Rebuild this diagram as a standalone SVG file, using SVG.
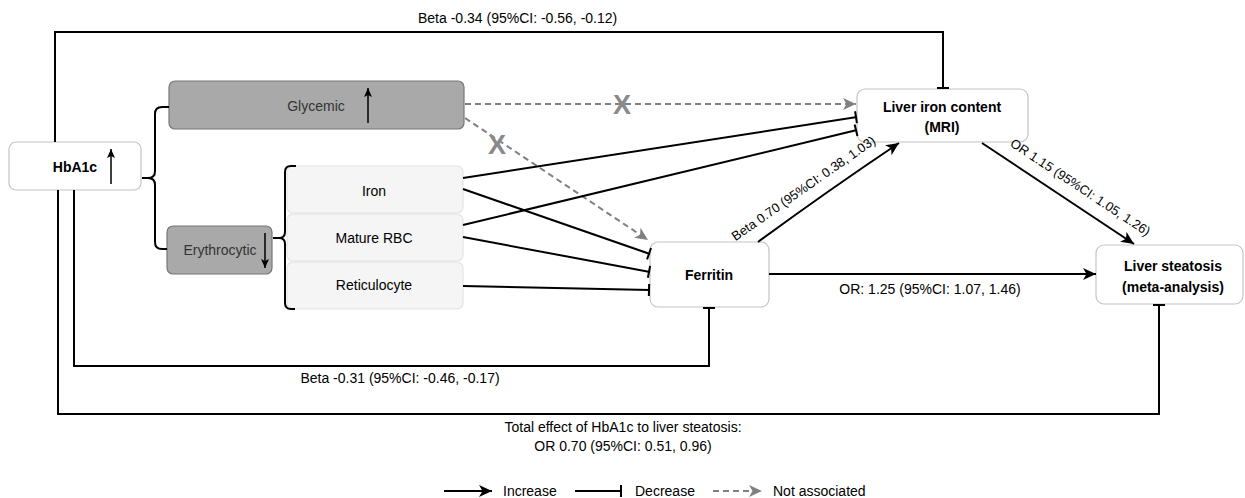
<svg xmlns="http://www.w3.org/2000/svg" width="1245" height="498" viewBox="0 0 1245 498">
<style>
text{font-family:"Liberation Sans",Arial,Helvetica,sans-serif;font-size:14px;fill:#000}
.b{font-weight:bold}
.c{text-anchor:middle}
.g{fill:#333}
.s13{font-size:13px}
.x{font-weight:bold;font-size:27px;fill:#8a8a8a}
.wbox{fill:#fff;stroke:#c4c4c4;stroke-width:1.2}
.gbox{fill:#a9a9a9;stroke:#777;stroke-width:1.2}
.lbox{fill:#f5f5f5;stroke:#e4e4e4;stroke-width:1.2}
.ln{fill:none;stroke:#000;stroke-width:2}
.up{fill:none;stroke:#000;stroke-width:1.5}
.ds{fill:none;stroke:#808080;stroke-width:2;stroke-dasharray:6 4}
</style>
<defs>
<marker id="arr" markerUnits="userSpaceOnUse" markerWidth="14" markerHeight="12" refX="13" refY="6" orient="auto">
<path d="M0,0 L13,6 L0,12 L3.5,6 z" fill="#000"/>
</marker>
<marker id="arrg" markerUnits="userSpaceOnUse" markerWidth="14" markerHeight="12" refX="13" refY="6" orient="auto">
<path d="M0,0 L13,6 L0,12 L3.5,6 z" fill="#808080"/>
</marker>
<marker id="sa" markerUnits="userSpaceOnUse" markerWidth="10" markerHeight="10" refX="9" refY="5" orient="auto">
<path d="M0,1 L9,5 L0,9 L2,5 z" fill="#000"/>
</marker>
<marker id="tee" markerUnits="userSpaceOnUse" markerWidth="4" markerHeight="14" refX="3" refY="7" orient="auto">
<line x1="2" y1="1" x2="2" y2="13" stroke="#000" stroke-width="2"/>
</marker>
</defs>

<g id="hba1c">
<rect class="wbox" x="9" y="142" width="132" height="48" rx="7"/>
<text class="b c" x="75" y="172">HbA1c</text>
<line class="up" x1="111" y1="184" x2="111" y2="149" marker-end="url(#sa)"/>
</g>

<g id="glycemic">
<rect class="gbox" x="169" y="81" width="295" height="48" rx="6"/>
<text class="c g" x="316" y="111">Glycemic</text>
<line class="up" x1="368" y1="123" x2="368" y2="88" marker-end="url(#sa)"/>
</g>

<g id="erythrocytic">
<rect class="gbox" x="167" y="226" width="105" height="48" rx="6"/>
<text class="c g" x="220" y="255">Erythrocytic</text>
<line class="up" x1="265" y1="233" x2="265" y2="268" marker-end="url(#sa)"/>
</g>

<g id="iron">
<rect class="lbox" x="287" y="166" width="176" height="47" rx="6"/>
<text class="c" x="374" y="196">Iron</text>
</g>
<g id="mature-rbc">
<rect class="lbox" x="287" y="214" width="176" height="47" rx="6"/>
<text class="c" x="374" y="243">Mature RBC</text>
</g>
<g id="reticulocyte">
<rect class="lbox" x="287" y="262" width="176" height="47" rx="6"/>
<text class="c" x="374" y="290">Reticulocyte</text>
</g>

<g id="ferritin">
<rect class="wbox" x="650" y="242" width="119" height="65" rx="8"/>
<text class="b c" x="709" y="280">Ferritin</text>
</g>

<g id="liver-iron">
<rect class="wbox" x="857" y="89" width="171" height="53" rx="8"/>
<text class="b c" x="942" y="112">Liver iron content</text>
<text class="b c" x="942" y="132">(MRI)</text>
</g>

<g id="liver-steatosis">
<rect class="wbox" x="1096" y="245" width="147" height="59" rx="8"/>
<text class="b c" x="1173" y="271">Liver steatosis</text>
<text class="b c" x="1173" y="292">(meta-analysis)</text>
</g>

<g id="connectors">
<path class="ln" d="M55,142 L55,32 L943,32 L943,89" marker-end="url(#tee)"/>
<path class="ln" d="M74,190 L74,366 L709,366 L709,307" marker-end="url(#tee)"/>
<path class="ln" d="M58,190 L58,414 L1159,414 L1159,304" marker-end="url(#tee)"/>
<path class="ln" d="M142,178 L148,178 Q155,178 155,171 L155,114 Q155,107 162,107 L169,107 M148,178 Q155,178 155,185 L155,242 Q155,249 162,249 L167,249"/>
<path class="ln" d="M273,238 L279,238 Q285,238 285,232 L285,172 Q285,166 291,166 L296,166 M279,238 Q285,238 285,244 L285,303 Q285,309 291,309 L295,309"/>
<path class="ds" d="M465,104 L856,104" marker-end="url(#arrg)"/>
<path class="ds" d="M465,118 L648,240" marker-end="url(#arrg)"/>
<path class="ln" d="M463,178 L857,117" marker-end="url(#tee)"/>
<path class="ln" d="M463,225 L857,130" marker-end="url(#tee)"/>
<path class="ln" d="M463,189 L650,254" marker-end="url(#tee)"/>
<path class="ln" d="M463,237 L650,272" marker-end="url(#tee)"/>
<path class="ln" d="M463,286 L650,290" marker-end="url(#tee)"/>
<path class="ln" d="M758,242 Q826,192 899,143" marker-end="url(#arr)"/>
<path class="ln" d="M982,143 L1134,244" marker-end="url(#arr)"/>
<path class="ln" d="M769,274 L1096,274" marker-end="url(#arr)"/>
</g>

<g id="labels">
<text x="418" y="23">Beta -0.34 (95%CI: -0.56, -0.12)</text>
<text class="x c" x="622" y="114">X</text>
<text class="x c" x="497" y="154">X</text>
<text class="c s13" transform="translate(806,192) rotate(-35)">Beta 0.70 (95%CI: 0.38, 1.03)</text>
<text class="c s13" transform="translate(1078,191) rotate(33.5)">OR 1.15 (95%CI: 1.05, 1.26)</text>
<text class="c" x="930" y="294">OR: 1.25 (95%CI: 1.07, 1.46)</text>
<text class="c" x="400" y="383">Beta -0.31 (95%CI: -0.46, -0.17)</text>
<text class="c" x="623" y="432">Total effect of HbA1c to liver steatosis:</text>
<text class="c" x="623" y="451">OR 0.70 (95%CI: 0.51, 0.96)</text>
</g>

<g id="legend">
<line class="ln" x1="444" y1="491" x2="492" y2="491" marker-end="url(#arr)"/>
<text x="503" y="496">Increase</text>
<line class="ln" x1="575" y1="491" x2="622" y2="491" marker-end="url(#tee)"/>
<text x="635" y="496">Decrease</text>
<line class="ds" x1="713" y1="491" x2="762" y2="491" marker-end="url(#arrg)"/>
<text x="773" y="496">Not associated</text>
</g>
</svg>
